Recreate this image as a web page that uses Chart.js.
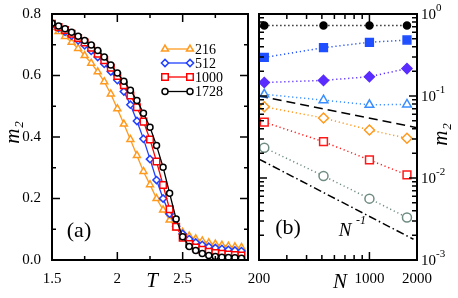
<!DOCTYPE html>
<html>
<head>
<meta charset="utf-8">
<script src="https://cdn.jsdelivr.net/npm/chart.js@4.4.0/dist/chart.umd.min.js"></script>
<style>
  body { margin: 0; background: #fff; }
  #wrap { position: relative; width: 458px; height: 298px; }
  canvas { position: absolute; top: 0; }
  #chartA { left: 0; }
  #chartB { left: 230px; }
</style>
</head>
<body>
<div id="wrap">
  <canvas id="chartA" width="255" height="298" style="width:255px;height:298px"></canvas>
  <canvas id="chartB" width="228" height="298" style="width:228px;height:298px"></canvas>
</div>
<script>
// ---- data, panel (a): m2 vs T
const temps = [1.50, 1.55, 1.60, 1.65, 1.70, 1.75, 1.80, 1.85, 1.90, 1.95,
               2.00, 2.05, 2.10, 2.15, 2.20, 2.25, 2.30, 2.35, 2.40, 2.45,
               2.50, 2.55, 2.60, 2.65, 2.70, 2.75, 2.80, 2.85, 2.90, 2.95];
const m2_216  = [0.757, 0.743, 0.727, 0.708, 0.688, 0.665, 0.640, 0.612, 0.580, 0.540,
                 0.492, 0.442, 0.392, 0.340, 0.288, 0.245, 0.200, 0.163, 0.130, 0.105,
                 0.090, 0.078, 0.069, 0.062, 0.056, 0.052, 0.048, 0.045, 0.043, 0.041];
const m2_512  = [0.765, 0.754, 0.742, 0.729, 0.714, 0.698, 0.680, 0.660, 0.638, 0.613,
                 0.585, 0.548, 0.505, 0.452, 0.394, 0.328, 0.260, 0.200, 0.150, 0.110,
                 0.085, 0.068, 0.057, 0.049, 0.043, 0.039, 0.036, 0.033, 0.031, 0.029];
const m2_1000 = [0.768, 0.758, 0.748, 0.736, 0.722, 0.707, 0.690, 0.671, 0.650, 0.625,
                 0.598, 0.568, 0.535, 0.497, 0.450, 0.392, 0.320, 0.244, 0.165, 0.108,
                 0.072, 0.052, 0.041, 0.033, 0.027, 0.023, 0.020, 0.018, 0.016, 0.015];
const m2_1728 = [0.770, 0.761, 0.752, 0.741, 0.728, 0.714, 0.699, 0.681, 0.660, 0.634,
                 0.608, 0.581, 0.552, 0.519, 0.477, 0.432, 0.372, 0.302, 0.217, 0.133,
                 0.076, 0.044, 0.031, 0.021, 0.015, 0.011, 0.009, 0.008, 0.007, 0.006];
const legendLabels = ['216', '512', '1000', '1728'];

// ---- data, panel (b): m2 vs N (log-log)
const sizesN = [216, 512, 1000, 1728];
const bBlack  = [0.725, 0.725, 0.725, 0.725];
const bBlue   = [0.295, 0.388, 0.452, 0.482];
const bPurple = [0.146, 0.155, 0.172, 0.216];
const bSky    = [0.105, 0.089, 0.078, 0.079];
const bOrange = [0.074, 0.054, 0.0385, 0.0305];
const bRed    = [0.048, 0.0277, 0.0166, 0.0109];
const bGray   = [0.0234, 0.0106, 0.0056, 0.0033];
const fitN      = [200, 2000];
const fitDashed = [0.100, 0.041];
const fitInvN   = [200, 1900];
const fitInv    = [0.017, 0.00179];

// tick labels
const ticksT  = [1.5, 2, 2.5];
const ticksM  = [0, 0.2, 0.4, 0.6, 0.8];
const ticksNb = [200, 1000, 2000];

Chart.defaults.font.family = '"Liberation Serif", "Times New Roman", serif';
Chart.defaults.color = '#000';

const SERIF = '"Liberation Serif", "Times New Roman", serif';

function marker(ctx, style, x, y, r, fill, stroke, lw) {
  ctx.beginPath();
  if (style === 'circle') {
    ctx.arc(x, y, r, 0, 2 * Math.PI);
  } else if (style === 'rect') {
    const s = r * Math.SQRT1_2;
    ctx.rect(x - s, y - s, 2 * s, 2 * s);
  } else if (style === 'rectRot') {
    ctx.moveTo(x - r, y); ctx.lineTo(x, y - r); ctx.lineTo(x + r, y); ctx.lineTo(x, y + r);
    ctx.closePath();
  } else if (style === 'triangle') {
    for (let k = 0; k < 3; k++) {
      const a = k * 2 * Math.PI / 3;
      const px = x + Math.sin(a) * r, py = y - Math.cos(a) * r;
      if (k === 0) ctx.moveTo(px, py); else ctx.lineTo(px, py);
    }
    ctx.closePath();
  }
  ctx.fillStyle = fill; ctx.fill();
  ctx.lineWidth = lw; ctx.strokeStyle = stroke; ctx.stroke();
}

function frameAndTicks(chart, xMaj, xMin, yMaj, yMin, majLen, minLen) {
  const { ctx, chartArea: ca, scales: { x, y } } = chart;
  ctx.save();
  ctx.strokeStyle = '#000';
  ctx.lineWidth = 1.5;
  ctx.beginPath();
  const xt = (v, len) => {
    const p = x.getPixelForValue(v);
    ctx.moveTo(p, ca.bottom); ctx.lineTo(p, ca.bottom - len);
    ctx.moveTo(p, ca.top); ctx.lineTo(p, ca.top + len);
  };
  const yt = (v, len) => {
    const p = y.getPixelForValue(v);
    ctx.moveTo(ca.left, p); ctx.lineTo(ca.left + len, p);
    ctx.moveTo(ca.right, p); ctx.lineTo(ca.right - len, p);
  };
  xMaj.forEach(v => xt(v, majLen));
  xMin.forEach(v => xt(v, minLen));
  yMaj.forEach(v => yt(v, majLen));
  yMin.forEach(v => yt(v, minLen));
  ctx.stroke();
  ctx.lineWidth = 2;
  ctx.strokeRect(ca.left, ca.top, ca.right - ca.left, ca.bottom - ca.top);
  ctx.restore();
}

function drawM2(ctx, cx, cy) {
  ctx.save();
  ctx.translate(cx, cy);
  ctx.rotate(-Math.PI / 2);
  ctx.fillStyle = '#000';
  ctx.textBaseline = 'alphabetic';
  ctx.textAlign = 'left';
  ctx.font = 'italic 21px ' + SERIF;
  const w = ctx.measureText('m').width;
  ctx.font = 'italic 13px ' + SERIF;
  const w2 = ctx.measureText('2').width;
  const x0 = -(w + w2) / 2;
  ctx.font = 'italic 21px ' + SERIF;
  ctx.fillText('m', x0, 6);
  ctx.font = 'italic 13px ' + SERIF;
  ctx.fillText('2', x0 + w + 1, 10);
  ctx.restore();
}

function text(ctx, s, x, y, font, align) {
  ctx.save();
  ctx.fillStyle = '#000';
  ctx.font = font;
  ctx.textAlign = align || 'center';
  ctx.textBaseline = 'middle';
  ctx.fillText(s, x, y);
  ctx.restore();
}

// ---- panel (a)
const colorsA = { o: '#ff9a1f', b: '#2040ff', r: '#ff0000', k: '#000000' };

function seriesA(label, data, color, style, r) {
  return {
    label: label,
    data: temps.map((t, i) => ({ x: t, y: data[i] })),
    borderColor: color,
    borderWidth: 1.3,
    pointStyle: style,
    pointRadius: r,
    pointBorderWidth: 1.5,
    pointBackgroundColor: '#fff',
    pointBorderColor: color,
    tension: 0
  };
}

const legendA = {
  id: 'legendA',
  afterDatasetsDraw(chart) {
    const ctx = chart.ctx;
    frameAndTicks(chart, [1.5, 2, 2.5, 3], [1.75, 2.25, 2.75],
      [0, 0.2, 0.4, 0.6, 0.8], [0.1, 0.3, 0.5, 0.7], 8, 4);
    const rows = [
      { c: colorsA.o, s: 'triangle', r: 4, y: 49 },
      { c: colorsA.b, s: 'rectRot', r: 3.6, y: 63 },
      { c: colorsA.r, s: 'rect', r: 4.6, y: 77 },
      { c: colorsA.k, s: 'circle', r: 3, y: 91.5 }
    ];
    rows.forEach((row, i) => {
      ctx.save();
      ctx.strokeStyle = row.c; ctx.lineWidth = 1.3;
      ctx.beginPath(); ctx.moveTo(165, row.y); ctx.lineTo(190, row.y); ctx.stroke();
      marker(ctx, row.s, 165, row.y, row.r, '#fff', row.c, 1.5);
      marker(ctx, row.s, 190, row.y, row.r, '#fff', row.c, 1.5);
      ctx.restore();
      text(ctx, legendLabels[i], 195, row.y + 1, '14px ' + SERIF, 'left');
    });
    text(ctx, '(a)', 79, 231, '22px ' + SERIF);
    text(ctx, 'T', 152, 281, 'italic 21px ' + SERIF);
    drawM2(ctx, 13, 133);
  }
};

new Chart(document.getElementById('chartA'), {
  type: 'line',
  data: {
    datasets: [
      seriesA('1728', m2_1728, colorsA.k, 'circle', 3),
      seriesA('1000', m2_1000, colorsA.r, 'rect', 4.6),
      seriesA('512', m2_512, colorsA.b, 'rectRot', 3.6),
      seriesA('216', m2_216, colorsA.o, 'triangle', 4)
    ]
  },
  options: {
    responsive: false,
    animation: false,
    layout: { padding: { top: 14, right: 7, left: 0, bottom: 0 } },
    plugins: { legend: { display: false }, tooltip: { enabled: false } },
    scales: {
      x: {
        type: 'linear', min: 1.5, max: 3,
        afterBuildTicks: a => { a.ticks = ticksT.map(v => ({ value: v })); },
        afterFit: a => { a.height = 38; },
        grid: { display: false }, border: { display: false },
        ticks: { autoSkip: false, maxRotation: 0, padding: 2, font: { size: 15 },
                 callback: v => String(v) }
      },
      y: {
        type: 'linear', min: 0, max: 0.8,
        afterBuildTicks: a => { a.ticks = ticksM.map(v => ({ value: v })); },
        afterFit: a => { a.width = 52; },
        grid: { display: false }, border: { display: false },
        ticks: { autoSkip: false, padding: 3, font: { size: 15 },
                 callback: v => v.toFixed(1) }
      }
    }
  },
  plugins: [legendA]
});

// ---- panel (b)
function seriesB(data, color, style, r, filled) {
  return {
    data: sizesN.map((n, i) => ({ x: n, y: data[i] })),
    borderColor: color,
    borderWidth: 1.5,
    borderDash: [1.2, 2.8],
    pointStyle: style,
    pointRadius: r,
    pointBorderWidth: 1.5,
    pointBackgroundColor: filled ? color : '#fff',
    pointBorderColor: color,
    clip: false,
    tension: 0
  };
}

function fitLine(xs, ys, dash) {
  return {
    data: xs.map((n, i) => ({ x: n, y: ys[i] })),
    borderColor: '#000',
    borderWidth: 1.5,
    borderDash: dash,
    pointRadius: 0,
    tension: 0
  };
}

const decorB = {
  id: 'decorB',
  afterDatasetsDraw(chart) {
    const ctx = chart.ctx;
    const yMin = [], xMin = [300, 400, 500, 600, 700, 800, 900];
    [0.001, 0.01, 0.1].forEach(d => { for (let k = 2; k <= 9; k++) yMin.push(d * k); });
    frameAndTicks(chart, [1000], xMin, [0.001, 0.01, 0.1, 1], yMin, 8, 5);
    const ys = chart.scales.y;
    const xr = chart.chartArea.right + 4;
    [0, -1, -2, -3].forEach(e => {
      const p = ys.getPixelForValue(Math.pow(10, e));
      ctx.save();
      ctx.fillStyle = '#000';
      ctx.textAlign = 'left';
      ctx.textBaseline = 'middle';
      ctx.font = '15px ' + SERIF;
      ctx.fillText('10', xr, p + 1);
      const w = ctx.measureText('10').width;
      ctx.font = '11px ' + SERIF;
      ctx.fillText(e === 0 ? '0' : '-' + (-e), xr + w, p - 6);
      ctx.restore();
    });
    text(ctx, '(b)', 58, 228, '22px ' + SERIF);
    text(ctx, 'N', 115, 231, 'italic 19px ' + SERIF);
    text(ctx, '-1', 126, 221, 'italic 12px ' + SERIF, 'left');
    text(ctx, 'N', 110, 282, 'italic 21px ' + SERIF);
    drawM2(ctx, 211, 135);
  }
};

new Chart(document.getElementById('chartB'), {
  type: 'line',
  data: {
    datasets: [
      seriesB(bBlack, '#000000', 'circle', 3.5, true),
      seriesB(bBlue, '#1f4fff', 'rect', 5.5, true),
      seriesB(bPurple, '#5a2cff', 'rectRot', 5, true),
      seriesB(bSky, '#3a8eff', 'triangle', 5, false),
      seriesB(bOrange, '#ff9a1f', 'rectRot', 5, false),
      seriesB(bRed, '#ff1a1a', 'rect', 5.5, false),
      seriesB(bGray, '#6f8c80', 'circle', 4.5, false),
      fitLine(fitN, fitDashed, [9, 5]),
      fitLine(fitInvN, fitInv, [8, 3, 1.5, 3])
    ]
  },
  options: {
    responsive: false,
    animation: false,
    layout: { padding: { top: 14, right: 0, left: 29, bottom: 0 } },
    plugins: { legend: { display: false }, tooltip: { enabled: false } },
    scales: {
      x: {
        type: 'logarithmic', min: 200, max: 2000,
        afterBuildTicks: a => { a.ticks = ticksNb.map(v => ({ value: v })); },
        afterFit: a => { a.height = 38; },
        grid: { display: false }, border: { display: false },
        ticks: { autoSkip: false, maxRotation: 0, padding: 2, font: { size: 15 },
                 callback: v => String(v) }
      },
      y: {
        type: 'logarithmic', position: 'right', min: 0.001, max: 1,
        afterFit: a => { a.width = 41; },
        grid: { display: false }, border: { display: false },
        ticks: { display: false }
      }
    }
  },
  plugins: [decorB]
});
</script>
</body>
</html>
